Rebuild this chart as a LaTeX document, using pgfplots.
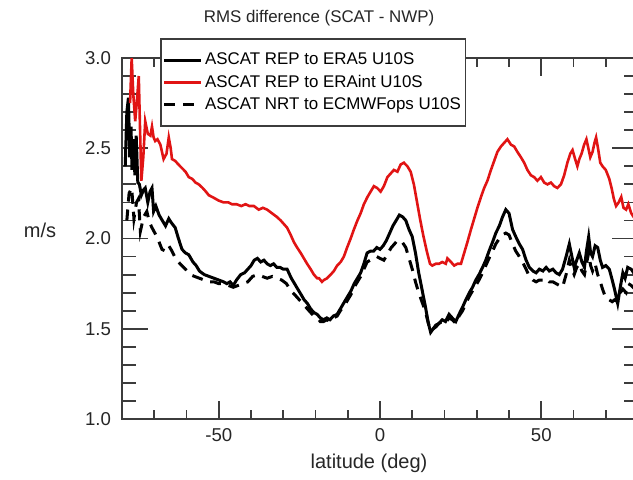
\documentclass[border=0pt]{standalone}
\usepackage{fontspec}
\setmainfont{Liberation Sans}
\usepackage{pgfplots}
\pgfplotsset{compat=1.18}
\definecolor{axgray}{RGB}{60,60,60}
\definecolor{myred}{RGB}{225,20,20}
\begin{document}
\begin{tikzpicture}
\pgfplotsset{
  common/.style={
    at={(61pt,-209.5pt)}, anchor=south west,
    width=258pt, height=180.5pt, scale only axis,
    xmin=-80, xmax=80, ymin=1, ymax=3,
    axis line style={axgray, line width=0.9pt},
    every tick/.style={axgray, line width=0.9pt},
    tick align=inside,
    /pgf/number format/assume math mode=true,
    tick label style={font=\fontsize{9.3}{11}\selectfont, text=black!85},
  }
}
\begin{axis}[common,
  ytick=\empty,
  xtick={-50,0,50},
  minor xtick={-80,-70,-60,-40,-30,-20,-10,10,20,30,40,60,70,80},
  major tick length=9pt, minor tick length=4.5pt,
  xticklabel shift=1pt,
]
\end{axis}
\begin{axis}[common,
  ytick={1,1.5,2,2.5,3},
  minor ytick={1.1,1.2,1.3,1.4,1.6,1.7,1.8,1.9,2.1,2.2,2.3,2.4,2.6,2.7,2.8,2.9},
  yticklabel style={/pgf/number format/.cd, fixed, fixed zerofill, precision=1},
  yticklabel shift=2pt,
  major tick length=13pt, minor tick length=7pt,
  xtick=\empty,
  legend cell align=left,
  legend image code/.code={\draw[#1] (0pt,0pt) -- (18.5pt,0pt);},
  legend style={at={(rel axis cs:0.0736,1.0554)}, anchor=north west,
    draw=axgray, line width=0.8pt, fill=white,
    font=\fontsize{8.45}{10}\selectfont,
    inner xsep=1pt, inner ysep=6pt, row sep=1.6pt,
    nodes={inner xsep=1.2pt, inner ysep=1pt}},
]
\addplot[black, line width=1.5pt] coordinates {
(-79.0,2.40)(-78.5,2.70)(-78.0,2.78)(-77.6,2.45)(-77.2,2.62)(-76.9,2.38)(-76.5,2.55)(-76.0,2.35)(-75.6,2.57)(-75.1,2.31)
(-74.6,2.30)(-74.0,2.24)(-73.3,2.27)(-72.8,2.28)(-72.0,2.20)(-71.3,2.26)(-70.7,2.28)(-70.2,2.15)(-69.5,2.18)(-68.5,2.13)
(-67.5,2.10)(-66.5,2.07)(-65.5,2.11)(-64.8,2.09)(-63.5,2.06)(-62.5,2.00)(-61.4,1.94)(-60.3,1.92)(-59.3,1.91)(-58.0,1.87)
(-57.0,1.85)(-56.0,1.82)(-54.5,1.80)(-53.0,1.79)(-51.5,1.78)(-50.0,1.77)(-48.5,1.76)(-47.5,1.75)(-46.5,1.76)(-45.5,1.74)
(-44.5,1.77)(-43.2,1.80)(-42.0,1.81)(-41.0,1.83)(-40.0,1.85)(-39.0,1.88)(-38.0,1.89)(-37.0,1.87)(-36.0,1.88)(-35.0,1.86)
(-34.0,1.85)(-33.0,1.86)(-32.0,1.84)(-31.0,1.84)(-30.0,1.83)(-28.8,1.83)(-27.5,1.78)(-26.5,1.75)(-25.5,1.72)(-24.5,1.69)
(-23.5,1.66)(-22.5,1.64)(-21.5,1.61)(-20.5,1.59)(-19.5,1.58)(-18.5,1.56)(-17.5,1.55)(-16.5,1.56)(-15.5,1.55)(-14.5,1.57)
(-13.3,1.58)(-12.3,1.61)(-11.0,1.65)(-10.0,1.68)(-9.0,1.71)(-8.0,1.75)(-7.0,1.78)(-6.0,1.81)(-5.0,1.86)(-4.0,1.92)
(-3.0,1.93)(-2.0,1.93)(-1.0,1.95)(0.0,1.94)(1.0,1.96)(2.0,1.99)(3.0,2.03)(4.0,2.07)(5.0,2.10)(6.0,2.13)
(7.0,2.12)(8.0,2.10)(9.0,2.05)(10.0,2.01)(11.0,1.92)(12.0,1.81)(13.0,1.72)(14.0,1.63)(15.0,1.53)(15.7,1.48)
(16.5,1.50)(17.3,1.52)(18.3,1.53)(19.3,1.55)(20.3,1.54)(21.4,1.58)(22.4,1.56)(23.5,1.54)(24.5,1.58)(25.6,1.62)
(26.6,1.66)(27.7,1.70)(28.7,1.73)(29.7,1.77)(30.7,1.80)(31.8,1.84)(32.8,1.88)(33.8,1.93)(34.9,1.98)(35.9,2.03)
(37.0,2.07)(38.0,2.12)(39.0,2.16)(40.0,2.14)(41.1,2.05)(42.1,2.01)(43.2,1.97)(44.2,1.94)(45.3,1.88)(46.3,1.84)
(47.4,1.82)(48.4,1.81)(49.4,1.83)(50.5,1.82)(51.5,1.84)(52.5,1.82)(53.6,1.83)(54.6,1.81)(55.6,1.80)(56.6,1.83)
(57.7,1.90)(58.7,1.97)(59.5,1.90)(60.2,1.84)(61.0,1.88)(61.8,1.92)(62.6,1.87)(63.4,1.84)(64.0,1.93)(64.7,2.01)
(65.3,1.92)(65.9,1.90)(66.7,1.96)(67.5,1.95)(68.3,1.88)(69.0,1.84)(70.0,1.85)(71.1,1.83)(72.0,1.77)(72.7,1.72)
(73.7,1.64)(74.5,1.73)(75.3,1.81)(76.0,1.78)(76.8,1.84)(77.9,1.83)(79.0,1.80)
};
\addlegendentry{ASCAT REP to ERA5 U10S}
\addplot[myred, line width=1.3pt] coordinates {
(-77.5,2.75)(-77.0,3.00)(-76.5,2.80)(-75.9,2.65)(-75.3,2.78)(-74.8,2.90)(-74.4,2.60)(-74.0,2.32)(-73.4,2.45)(-72.8,2.65)
(-72.0,2.58)(-71.2,2.57)(-70.7,2.62)(-70.2,2.56)(-69.7,2.54)(-69.0,2.55)(-68.1,2.52)(-67.1,2.44)(-66.2,2.47)(-65.5,2.56)
(-64.9,2.50)(-64.5,2.44)(-63.5,2.43)(-62.5,2.41)(-61.4,2.39)(-60.3,2.37)(-59.3,2.34)(-58.2,2.33)(-57.2,2.31)(-56.2,2.30)
(-55.0,2.28)(-54.0,2.26)(-53.1,2.24)(-52.0,2.23)(-51.0,2.22)(-50.0,2.21)(-48.5,2.20)(-47.0,2.20)(-45.9,2.19)(-44.5,2.19)
(-43.0,2.18)(-41.7,2.19)(-40.5,2.18)(-39.1,2.18)(-37.6,2.16)(-36.3,2.17)(-35.0,2.16)(-33.5,2.14)(-32.0,2.12)(-30.8,2.10)
(-29.8,2.08)(-28.8,2.06)(-27.7,2.02)(-26.7,1.98)(-25.7,1.95)(-24.6,1.92)(-23.6,1.89)(-22.6,1.86)(-21.5,1.83)(-20.5,1.80)
(-19.5,1.78)(-18.9,1.78)(-18.0,1.76)(-17.4,1.77)(-16.4,1.78)(-15.3,1.80)(-14.3,1.82)(-13.3,1.85)(-12.2,1.87)(-11.2,1.90)
(-10.2,1.95)(-9.1,2.00)(-8.1,2.05)(-7.0,2.10)(-6.0,2.14)(-5.0,2.19)(-3.9,2.23)(-2.9,2.26)(-1.9,2.29)(-0.9,2.28)
(0.2,2.26)(1.2,2.29)(2.3,2.34)(3.3,2.36)(4.3,2.38)(5.4,2.37)(6.4,2.41)(7.4,2.42)(8.5,2.40)(9.5,2.37)
(10.5,2.30)(11.5,2.20)(12.5,2.10)(13.5,2.01)(14.5,1.93)(15.5,1.86)(16.2,1.85)(17.3,1.86)(18.3,1.86)(19.3,1.87)
(20.4,1.86)(20.9,1.89)(22.0,1.87)(23.0,1.85)(24.0,1.86)(25.1,1.86)(26.1,1.92)(27.1,1.98)(28.2,2.05)(29.2,2.11)
(30.2,2.17)(31.3,2.23)(32.3,2.28)(33.3,2.32)(34.4,2.38)(35.4,2.43)(36.4,2.48)(37.5,2.51)(38.5,2.53)(39.5,2.55)
(40.6,2.52)(41.6,2.51)(42.6,2.48)(43.7,2.45)(44.7,2.42)(45.7,2.38)(46.8,2.35)(47.8,2.34)(48.8,2.32)(49.9,2.34)
(50.9,2.31)(51.9,2.30)(53.0,2.31)(54.0,2.29)(55.0,2.28)(56.1,2.30)(57.1,2.35)(58.1,2.42)(59.0,2.47)(59.7,2.49)
(60.5,2.44)(61.2,2.40)(61.8,2.44)(62.5,2.47)(63.3,2.52)(64.0,2.55)(64.6,2.50)(65.2,2.45)(65.9,2.48)(66.5,2.53)
(67.0,2.56)(67.6,2.50)(68.3,2.42)(69.0,2.40)(70.0,2.38)(71.1,2.33)(71.8,2.28)(72.5,2.22)(73.2,2.18)(74.0,2.20)
(74.8,2.23)(75.5,2.17)(76.3,2.16)(77.0,2.19)(77.9,2.14)(79.0,2.11)
};
\addlegendentry{ASCAT REP to ERAint U10S}
\addplot[black, line width=1.5pt, dash pattern=on 5.5pt off 4pt] coordinates {
(-78.5,2.10)(-77.8,2.25)(-77.0,2.28)(-76.3,2.11)(-75.5,2.20)(-74.9,2.22)(-74.3,2.04)(-73.3,2.12)(-72.3,2.15)(-71.5,2.09)
(-70.7,2.06)(-69.5,2.02)(-68.5,1.98)(-67.6,1.94)(-66.5,1.93)(-65.5,1.96)(-64.5,1.93)(-63.4,1.89)(-62.0,1.86)(-60.3,1.83)
(-58.8,1.80)(-57.5,1.79)(-56.0,1.78)(-54.5,1.77)(-53.0,1.76)(-51.5,1.76)(-50.0,1.75)(-48.5,1.75)(-47.0,1.74)(-45.5,1.73)
(-44.0,1.74)(-42.5,1.75)(-41.0,1.76)(-39.5,1.79)(-38.0,1.80)(-36.5,1.79)(-35.0,1.78)(-33.4,1.79)(-32.0,1.78)(-30.5,1.77)
(-29.0,1.75)(-27.7,1.71)(-26.5,1.69)(-25.5,1.67)(-24.5,1.65)(-23.5,1.63)(-22.5,1.61)(-21.5,1.59)(-20.5,1.57)(-19.5,1.56)
(-18.5,1.54)(-17.5,1.54)(-16.5,1.55)(-15.5,1.54)(-14.5,1.56)(-13.3,1.57)(-12.3,1.60)(-11.0,1.63)(-10.0,1.66)(-9.0,1.69)
(-8.0,1.73)(-7.0,1.76)(-6.0,1.79)(-5.0,1.83)(-4.0,1.87)(-3.0,1.88)(-2.0,1.89)(-1.0,1.90)(0.0,1.89)(1.2,1.88)
(2.5,1.92)(3.5,1.95)(4.5,1.97)(5.4,1.99)(6.9,1.98)(8.0,1.95)(9.0,1.89)(10.0,1.83)(11.0,1.76)(12.0,1.70)
(13.0,1.65)(14.0,1.60)(15.0,1.53)(15.7,1.49)(16.5,1.50)(17.3,1.51)(18.3,1.53)(19.3,1.54)(20.3,1.53)(21.4,1.56)
(22.4,1.55)(23.5,1.53)(24.5,1.57)(25.6,1.60)(26.6,1.64)(27.7,1.68)(28.7,1.71)(29.7,1.74)(30.7,1.77)(31.8,1.81)
(32.8,1.85)(33.8,1.89)(34.9,1.93)(35.9,1.97)(37.0,2.00)(38.0,2.02)(39.0,2.03)(40.0,2.02)(41.1,1.97)(42.1,1.93)
(43.2,1.90)(44.2,1.87)(45.3,1.83)(46.3,1.79)(47.4,1.77)(48.4,1.76)(49.4,1.77)(50.5,1.77)(51.5,1.78)(52.5,1.76)
(53.6,1.76)(54.6,1.75)(55.6,1.74)(56.6,1.73)(57.7,1.80)(58.7,1.88)(59.5,1.83)(60.2,1.80)(61.0,1.84)(61.8,1.86)
(62.6,1.82)(63.4,1.80)(64.0,1.86)(64.7,1.92)(65.3,1.85)(65.9,1.82)(66.7,1.86)(67.5,1.80)(68.3,1.76)(69.0,1.72)
(70.0,1.67)(71.1,1.66)(72.0,1.65)(72.7,1.66)(73.7,1.65)(74.5,1.70)(75.3,1.72)(76.3,1.70)(77.0,1.75)(77.9,1.74)
(79.0,1.72)
};
\addlegendentry{ASCAT NRT to ECMWFops U10S}
\end{axis}
\node[font=\fontsize{8.45}{10}\selectfont, text=black!85] at (159.5pt,-9pt) {RMS difference (SCAT - NWP)};
\node[font=\fontsize{10}{12}\selectfont, text=black!85] at (184.5pt,-231.5pt) {latitude (deg)};
\node[font=\fontsize{10}{12}\selectfont, text=black!85] at (20pt,-115pt) {m/s};
\pgfresetboundingbox
\useasboundingbox (0,0) rectangle (316.5pt,-239.5pt);
\end{tikzpicture}
\end{document}
